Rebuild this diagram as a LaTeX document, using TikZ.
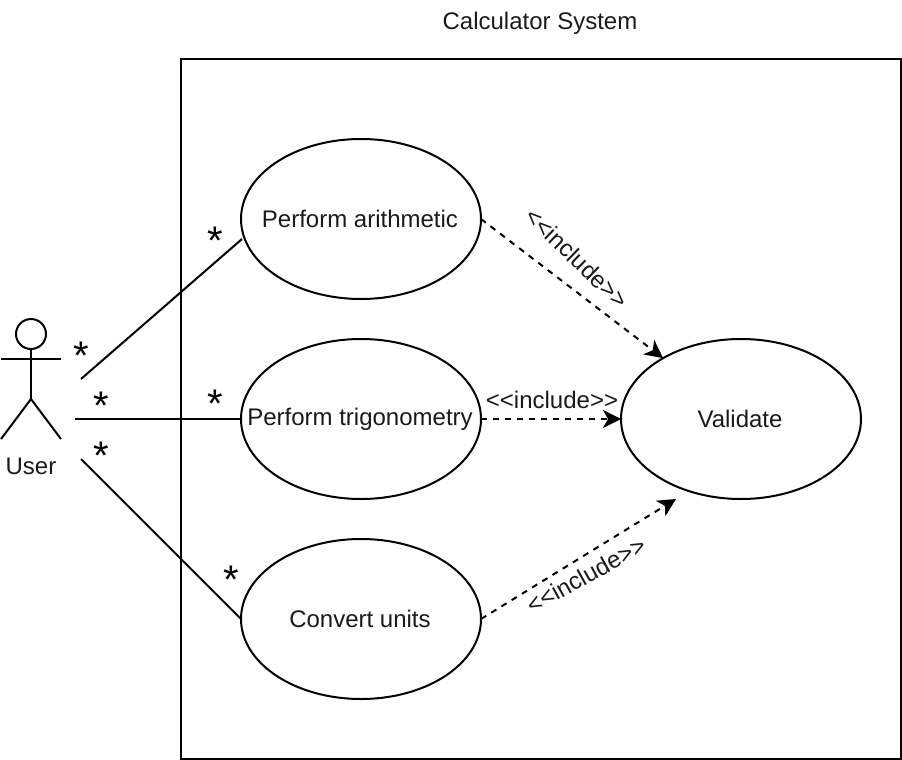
\documentclass[tikz,border=0pt]{standalone}
\usepackage{fontspec}
\setmainfont{Liberation Sans}
\usetikzlibrary{arrows.meta,shapes.geometric}
\definecolor{ink}{HTML}{1A1A1A}
\newcommand\ucname[1]{\makebox[0pt]{\raisebox{-1pt}{\kern-2pt #1}}}
\tikzset{x=1pt,y=-1pt,
 usecase/.style={draw=black,line width=2pt,fill=white,ellipse,outer sep=0pt,minimum width=240pt,minimum height=160pt,inner sep=0pt,font=\fontsize{24}{26}\selectfont,text=ink},
 lbl/.style={font=\fontsize{24}{26}\selectfont,text=ink,inner sep=0pt},
 star/.style={font=\fontsize{40}{40}\selectfont,inner sep=0pt,text=black},
 assoc/.style={draw=black,line width=2pt},
 incl/.style={draw=black,line width=2pt,dash pattern=on 6pt off 6pt,-{Stealth[length=18pt,width=18pt,inset=5pt]}}
}
\begin{document}
\begin{tikzpicture}
\useasboundingbox (0,0) rectangle (902,760);
\node[draw=black,line width=2pt,outer sep=0pt,minimum width=720pt,minimum height=700pt,inner sep=0pt,anchor=north west] (sys) at (181,59) {};
\node[lbl] (title) at (540,23) {Calculator System};
\node[usecase] (a) at (361,219) {\ucname{Perform arithmetic}};
\node[usecase] (t) at (361,419) {\ucname{Perform trigonometry}};
\node[usecase] (c) at (361,619) {\ucname{Convert units}};
\node[usecase] (v) at (741,419) {\ucname{Validate}};
% actor
\node[draw=black,line width=2pt,outer sep=0pt,circle,minimum size=30pt,inner sep=0pt] (head) at (31,334) {};
\coordinate (hip) at (31,399);
\coordinate (ll) at (1,439);
\coordinate (rl) at (61,439);
\coordinate (al) at (1,359);
\coordinate (ar) at (61,359);
\draw[assoc] (head.south) -- (hip);
\draw[assoc] (al) -- (ar);
\draw[assoc] (ll) -- (hip) -- (rl);
\node[lbl] (user) at (31,466) {User};
% associations
\coordinate (u1) at (81,379);
\coordinate (u2) at (75,419);
\coordinate (u3) at (81,459);
\coordinate (a1) at (242,239);
\draw[assoc] (u1) -- (a1);
\draw[assoc] (u2) -- (t.west);
\draw[assoc] (u3) -- (c.west);
% includes
\coordinate (v3) at (676,499);
\draw[incl] (a.east) -- (v.142);
\draw[incl] (t.east) -- (v.west);
\draw[incl] (c.east) -- (v3);
\node[lbl,rotate=-44] (i1) at (577,258) {<{}<include>{}>};
\node[lbl] (i2) at (552,400) {<{}<include>{}>};
\node[lbl,rotate=29] (i3) at (586,575) {<{}<include>{}>};
% stars
\node[star] (s1) at (215,241) {*};
\node[star] (s2) at (81,356) {*};
\node[star] (s3) at (101,406) {*};
\node[star] (s4) at (215,404) {*};
\node[star] (s5) at (101,456) {*};
\node[star] (s6) at (231,580) {*};
\end{tikzpicture}
\end{document}
